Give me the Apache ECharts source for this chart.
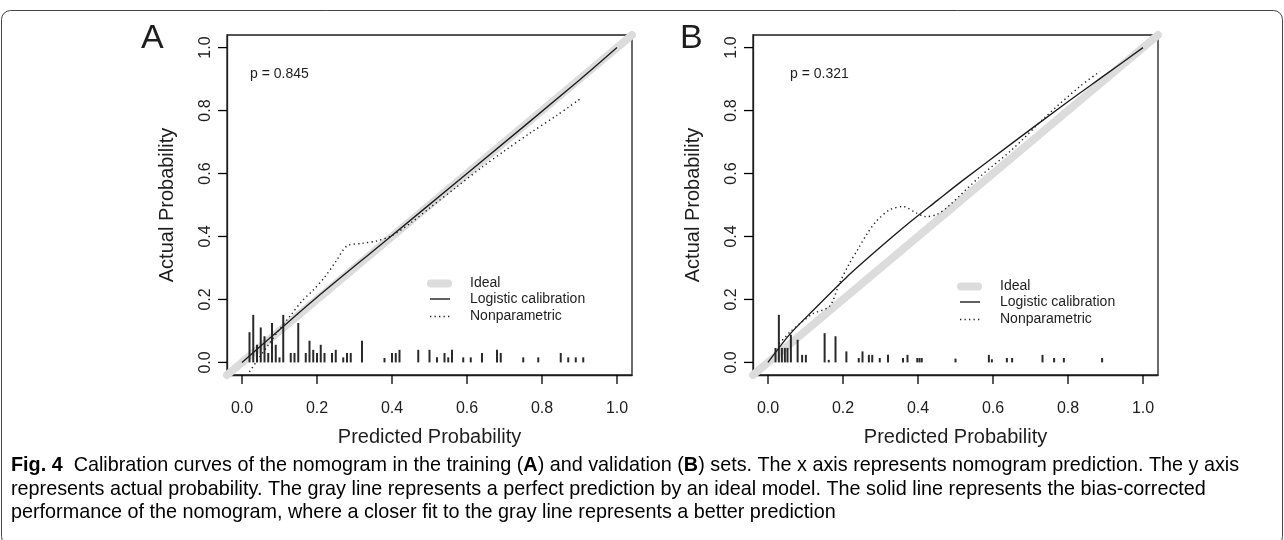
<!DOCTYPE html>
<html>
<head>
<meta charset="utf-8">
<script src="https://cdn.jsdelivr.net/npm/echarts@6/dist/echarts.min.js"></script>
<style>
  html, body { margin: 0; padding: 0; background: #fff; }
  #chart { width: 1284px; height: 540px; }
</style>
</head>
<body>
<div id="chart"></div>
<script>
// tick labels shared by both panels
const tickValues = [0, 0.2, 0.4, 0.6, 0.8, 1.0];
const axisMin = -0.04;
const axisMax = 1.04;

// ideal 45 degree line, spans the whole plot box
const idealLine = [[-0.04, -0.04], [1.04, 1.04]];

// panel A (training)
const trainLogistic = [[0, 0], [0.1, 0.104], [0.2, 0.207], [0.37, 0.374], [0.6, 0.6], [0.9, 0.897], [1, 1]];
const trainNonpar = [[0.02, -0.03], [0.04, 0.005], [0.07, 0.055], [0.1, 0.105], [0.13, 0.15], [0.16, 0.195],
  [0.19, 0.23], [0.22, 0.27], [0.25, 0.32], [0.28, 0.37], [0.32, 0.378], [0.36, 0.386], [0.4, 0.403],
  [0.45, 0.443], [0.5, 0.49], [0.57, 0.555], [0.64, 0.62], [0.7, 0.672], [0.77, 0.73], [0.84, 0.785], [0.904, 0.839]];
const trainRugX = [0.02, 0.03, 0.04, 0.05, 0.06, 0.07, 0.08, 0.09, 0.10, 0.11, 0.13, 0.14, 0.15, 0.17, 0.18, 0.19,
  0.20, 0.21, 0.22, 0.24, 0.25, 0.27, 0.28, 0.29, 0.32, 0.38, 0.40, 0.41, 0.42, 0.47, 0.50, 0.52, 0.54, 0.55,
  0.56, 0.59, 0.61, 0.64, 0.68, 0.69, 0.75, 0.79, 0.85, 0.87, 0.89, 0.91];
const trainRugH = [0.096, 0.151, 0.056, 0.111, 0.083, 0.03, 0.125, 0.056, 0.016, 0.151, 0.03, 0.03, 0.125, 0.03,
  0.069, 0.04, 0.03, 0.056, 0.03, 0.03, 0.04, 0.016, 0.03, 0.03, 0.069, 0.014, 0.03, 0.03, 0.04, 0.04, 0.04,
  0.016, 0.03, 0.016, 0.04, 0.016, 0.016, 0.03, 0.04, 0.03, 0.016, 0.016, 0.03, 0.016, 0.016, 0.016];

// panel B (validation)
const validLogistic = [[0, 0], [0.058, 0.089], [0.12, 0.165], [0.209, 0.27], [0.29, 0.356], [0.378, 0.445],
  [0.45, 0.513], [0.516, 0.575], [0.653, 0.698], [0.787, 0.817], [0.9, 0.914], [1, 1]];
const validNonpar = [[0.03, 0.06], [0.06, 0.098], [0.09, 0.128], [0.12, 0.155], [0.164, 0.178], [0.19, 0.25],
  [0.215, 0.31], [0.24, 0.36], [0.265, 0.41], [0.29, 0.45], [0.325, 0.485], [0.36, 0.495], [0.395, 0.475],
  [0.42, 0.463], [0.45, 0.47], [0.48, 0.495], [0.565, 0.59], [0.65, 0.675], [0.74, 0.78], [0.83, 0.875], [0.885, 0.924]];
const validRugX = [0.02, 0.029, 0.037, 0.045, 0.052, 0.061, 0.079, 0.091, 0.101, 0.151, 0.162, 0.18, 0.209, 0.242,
  0.252, 0.269, 0.278, 0.298, 0.32, 0.36, 0.372, 0.398, 0.404, 0.41, 0.5, 0.589, 0.597, 0.637, 0.651, 0.732,
  0.763, 0.789, 0.891];
const validRugH = [0.046, 0.151, 0.046, 0.046, 0.046, 0.088, 0.072, 0.024, 0.024, 0.093, 0.008, 0.083, 0.035, 0.014,
  0.035, 0.024, 0.024, 0.014, 0.024, 0.014, 0.024, 0.014, 0.014, 0.014, 0.012, 0.024, 0.01, 0.014, 0.014, 0.024,
  0.014, 0.014, 0.014];

const pLabels = ['p = 0.845', 'p = 0.321'];
const panelLetters = ['A', 'B'];
const legendNames = ['Ideal', 'Logistic calibration', 'Nonparametric'];

const FONT = '"Liberation Sans", Arial, Helvetica, sans-serif';
const INK = '#1e1e1e';
const GREY = '#dcdcdc';
const DOTS = [1.3, 3.2];

const grids = [
  { left: 227, top: 35, width: 405, height: 340 },
  { left: 753, top: 35, width: 405, height: 340 }
];

const zip = (xs, hs) => xs.map((x, i) => [x, hs[i]]);

function xAxisFor(i) {
  return {
    gridIndex: i, type: 'value', min: axisMin, max: axisMax,
    name: 'Predicted Probability', nameLocation: 'middle', nameGap: 52,
    nameTextStyle: { fontFamily: FONT, fontSize: 20, color: INK },
    axisLine: { show: true, onZero: false, lineStyle: { color: INK, width: 1.3 } },
    axisTick: { show: false },
    axisLabel: { customValues: tickValues, formatter: v => v.toFixed(1), fontFamily: FONT, fontSize: 16, color: INK, margin: 26 },
    splitLine: { show: false }
  };
}

function yAxisFor(i) {
  return {
    gridIndex: i, type: 'value', min: axisMin, max: axisMax,
    name: 'Actual Probability', nameLocation: 'middle', nameGap: 50,
    nameTextStyle: { fontFamily: FONT, fontSize: 20, color: INK },
    axisLine: { show: true, onZero: false, lineStyle: { color: INK, width: 1.3 } },
    axisTick: { show: false },
    axisLabel: { customValues: tickValues, formatter: v => v.toFixed(1), rotate: 90, fontFamily: FONT, fontSize: 16, color: INK, margin: 13 },
    splitLine: { show: false }
  };
}

// outward tick marks placed through the axis scale (R style, outside the box)
function tickSeries(i) {
  const tickStyle = { stroke: '#000', lineWidth: 1.3 };
  return [
    {
      type: 'custom', xAxisIndex: i, yAxisIndex: i, silent: true, clip: false, z: 5,
      data: tickValues.map(v => [v, axisMin]),
      renderItem: (params, api) => {
        const p = api.coord([api.value(0), api.value(1)]);
        return { type: 'line', shape: { x1: p[0], y1: p[1], x2: p[0], y2: p[1] + 9 }, style: tickStyle };
      }
    },
    {
      type: 'custom', xAxisIndex: i, yAxisIndex: i, silent: true, clip: false, z: 5,
      data: tickValues.map(v => [axisMin, v]),
      renderItem: (params, api) => {
        const p = api.coord([api.value(0), api.value(1)]);
        return { type: 'line', shape: { x1: p[0] - 9, y1: p[1], x2: p[0], y2: p[1] }, style: tickStyle };
      }
    }
  ];
}

function panelSeries(i, logistic, nonpar, rugX, rugH) {
  return [
    {
      name: 'Ideal', type: 'line', xAxisIndex: i, yAxisIndex: i, data: idealLine,
      symbol: 'none', clip: false, z: 1, silent: true,
      lineStyle: { color: GREY, width: 8, cap: 'round' }
    },
    {
      name: 'rug', type: 'bar', xAxisIndex: i, yAxisIndex: i, data: zip(rugX, rugH),
      barWidth: 2, z: 2, silent: true,
      itemStyle: { color: '#2a2a2a' }
    },
    {
      name: 'Logistic calibration', type: 'line', xAxisIndex: i, yAxisIndex: i, data: logistic,
      symbol: 'none', smooth: 0.3, z: 4, silent: true,
      lineStyle: { color: INK, width: 1.4 }
    },
    {
      name: 'Nonparametric', type: 'line', xAxisIndex: i, yAxisIndex: i, data: nonpar,
      symbol: 'none', smooth: 0.3, z: 3, silent: true,
      lineStyle: { color: INK, width: 1.4, type: DOTS }
    },
    ...tickSeries(i)
  ];
}

// hand-drawn key, R style: grey bar, solid, dotted
function keyFor(x, y) {
  const rows = [y, y + 15.5, y + 33];
  const styles = [
    { stroke: GREY, lineWidth: 8, lineCap: 'round' },
    { stroke: INK, lineWidth: 1.4 },
    { stroke: INK, lineWidth: 1.4, lineDash: DOTS }
  ];
  const out = [];
  rows.forEach((ry, k) => {
    const x1 = k === 0 ? x + 4 : x + 3;
    const x2 = k === 0 ? x + 21 : x + 23;
    out.push({ type: 'line', silent: true, shape: { x1: x1, y1: ry, x2: x2, y2: ry }, style: styles[k] });
    out.push({
      type: 'text', silent: true, x: x + 43, y: ry,
      style: { text: legendNames[k], font: '14px ' + FONT, fill: INK, verticalAlign: 'middle' }
    });
  });
  return out;
}

const captionRich = {
  b: { fontFamily: FONT, fontSize: 19.8, fontWeight: 'bold', color: '#111' },
  n: { fontFamily: FONT, fontSize: 19.8, color: '#111' }
};
const captionLines = [
  '{b|Fig. 4}{n|  Calibration curves of the nomogram in the training (}{b|A}{n|) and validation (}{b|B}{n|) sets. The x axis represents nomogram prediction. The y axis}',
  '{n|represents actual probability. The gray line represents a perfect prediction by an ideal model. The solid line represents the bias-corrected}',
  '{n|performance of the nomogram, where a closer fit to the gray line represents a better prediction}'
];
const captionY = [466, 490, 513];

const chart = echarts.init(document.getElementById('chart'));

const option = {
  animation: false,
  backgroundColor: '#fff',
  grid: grids.map(g => Object.assign({ show: true, borderColor: INK, borderWidth: 1.3 }, g)),
  xAxis: [xAxisFor(0), xAxisFor(1)],
  yAxis: [yAxisFor(0), yAxisFor(1)],
  series: [
    ...panelSeries(0, trainLogistic, trainNonpar, trainRugX, trainRugH),
    ...panelSeries(1, validLogistic, validNonpar, validRugX, validRugH)
  ],
  graphic: [
    {
      type: 'rect', shape: { x: 1.5, y: 10.5, width: 1281, height: 535, r: 9 }, silent: true,
      style: { fill: 'none', stroke: '#444', lineWidth: 1 }
    },
    { type: 'text', left: 141, top: 22, style: { text: panelLetters[0], font: '34px ' + FONT, fill: INK } },
    { type: 'text', left: 680, top: 22, style: { text: panelLetters[1], font: '34px ' + FONT, fill: INK } },
    { type: 'text', x: 250, y: 74, style: { text: pLabels[0], font: '14px ' + FONT, fill: INK, verticalAlign: 'middle' } },
    { type: 'text', x: 790, y: 74, style: { text: pLabels[1], font: '14px ' + FONT, fill: INK, verticalAlign: 'middle' } },
    ...keyFor(427, 283.5),
    ...keyFor(957, 286.5),
    ...captionLines.map((t, i) => ({
      type: 'text', x: 11, y: captionY[i],
      style: { text: t, rich: captionRich, verticalAlign: 'middle' }
    }))
  ]
};

chart.setOption(option);
</script>
</body>
</html>
